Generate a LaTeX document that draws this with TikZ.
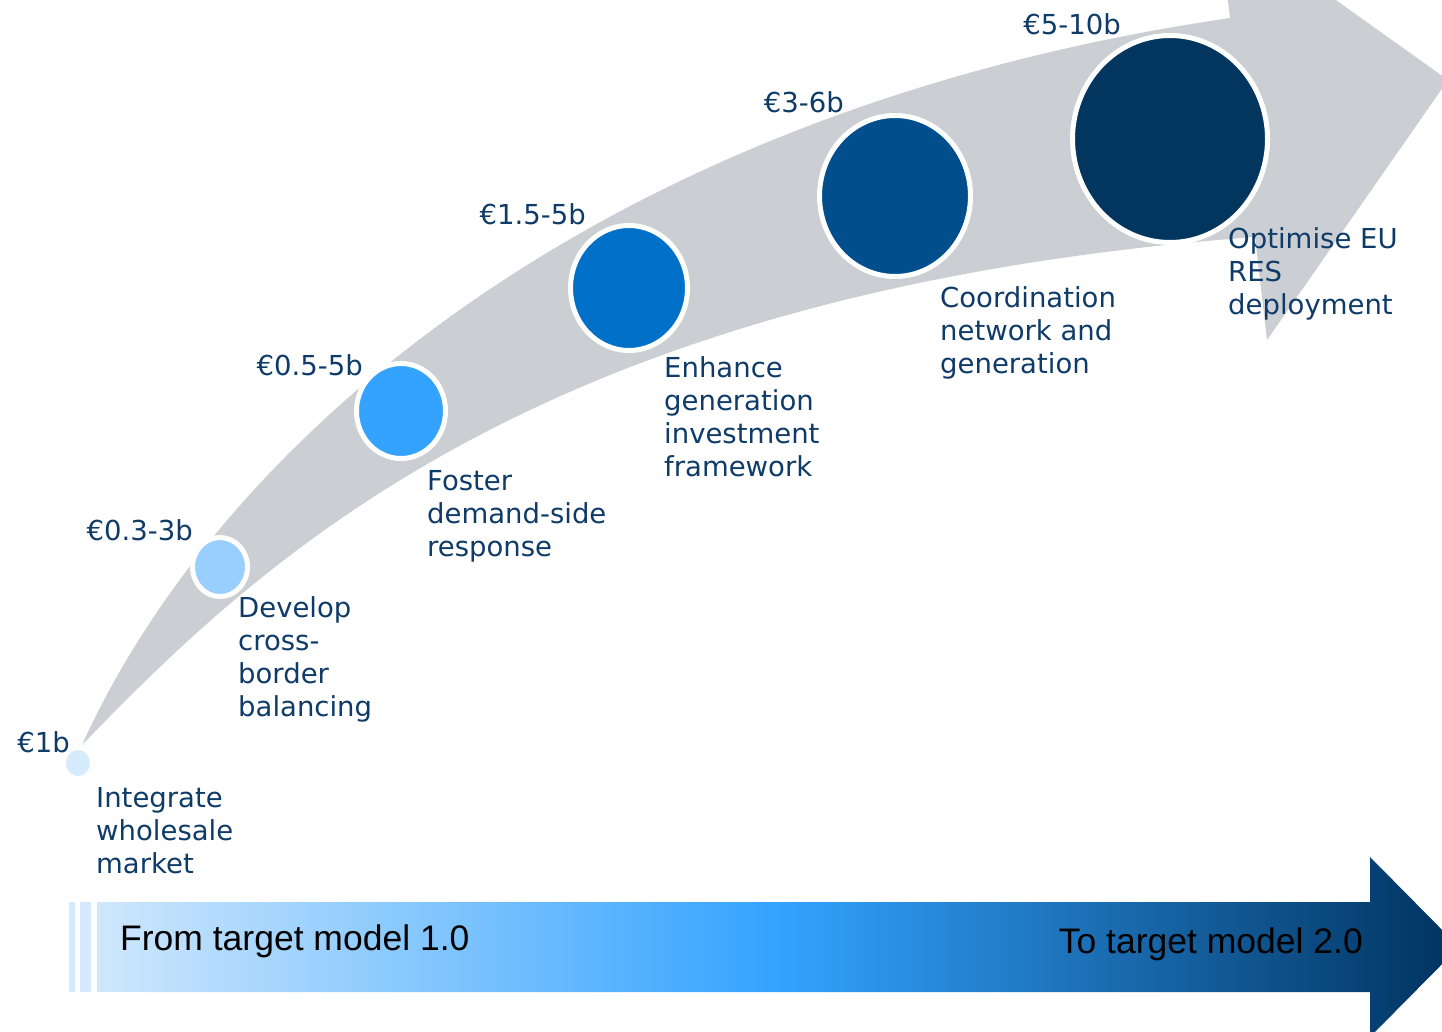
\documentclass[tikz,border=0pt]{standalone}
\usepackage{fontspec}
\setmainfont{DejaVu Sans}
\newfontfamily\barfont{Liberation Sans}
\usetikzlibrary{shapes.geometric}
\definecolor{band}{HTML}{CBCED3}
\definecolor{navy}{HTML}{0F3B68}
\definecolor{stripe}{HTML}{D4EAFC}
\definecolor{barA}{HTML}{CFE7FC}
\definecolor{barB}{HTML}{33A3FF}
\definecolor{barC}{HTML}{00325E}
\definecolor{stageA}{HTML}{D6EBFC}
\definecolor{stageB}{HTML}{99CFFF}
\definecolor{stageC}{HTML}{33A3FF}
\definecolor{stageD}{HTML}{0070C8}
\definecolor{stageE}{HTML}{004F8C}
\definecolor{stageF}{HTML}{02365F}
\tikzset{
	stage/.style={ellipse,inner sep=0pt,draw=white,line width=5pt},
	amount/.style={anchor=base east,inner sep=0pt,text=navy,font=\fontsize{27.5}{33}\selectfont},
	desc/.style={anchor=north west,inner sep=0pt,align=left,text=navy,font=\fontsize{27.5}{33}\selectfont},
	barlabel/.style={inner sep=0pt,font=\barfont\fontsize{35.5}{40}\selectfont}
}
\begin{document}
\begin{tikzpicture}[x=1pt,y=-1pt]
		\useasboundingbox (0,0) rectangle (1442,1032);
		\clip (0,0) rectangle (1442,1032);
		\fill[band] (82,745) .. controls (220,440) and (600,110) .. (1230,18) -- (1218,-84) -- (1448,80) -- (1267,340) -- (1255,237) .. controls (550,290) and (270,550) .. (82,745) -- cycle;

		\node[stage,fill=stageA,minimum width=29pt,minimum height=31pt] (s1) at (78,763) {};
		\node[stage,fill=stageB,minimum width=55pt,minimum height=59pt] (s2) at (220,567) {};
		\node[stage,fill=stageC,minimum width=89pt,minimum height=95pt] (s3) at (401,411) {};
		\node[stage,fill=stageD,minimum width=117pt,minimum height=125pt] (s4) at (629,288) {};
		\node[stage,fill=stageE,minimum width=151pt,minimum height=161pt] (s5) at (895,196) {};
		\node[stage,fill=stageF,minimum width=195pt,minimum height=207pt] (s6) at (1170,139) {};

		\node[amount] (a1) at (70,752) {€1b};
		\node[amount] (a2) at (193,540) {€0.3-3b};
		\node[amount] (a3) at (363,375) {€0.5-5b};
		\node[amount] (a4) at (586,225) {€1.5-5b};
		\node[amount] (a5) at (844,113) {€3-6b};
		\node[amount] (a6) at (1121,35) {€5-10b};

		\node[desc] (d1) at (96,784) {\strut Integrate\\wholesale\\market};
		\node[desc] (d2) at (238,594) {\strut Develop\\cross-\\border\\balancing};
		\node[desc] (d3) at (427,467) {\strut Foster\\demand-side\\response};
		\node[desc] (d4) at (664,354) {\strut Enhance\\generation\\investment\\framework};
		\node[desc] (d5) at (940,284) {\strut Coordination\\network and\\generation};
		\node[desc] (d6) at (1228,225) {\strut Optimise EU\\RES\\deployment};

		\fill[stripe] (69,902) rectangle (75,992);
		\fill[stripe] (80,902) rectangle (91,992);
		\shade[left color=barA,right color=barC,middle color=barB] (97,902) -- (1370,902) -- (1370,857) -- (1459,947) -- (1370,1037) -- (1370,992) -- (97,992) -- cycle;
		\node[barlabel,anchor=base west] (from) at (120,950) {From target model 1.0};
		\node[barlabel,anchor=base east] (to) at (1363,953) {To target model 2.0};

\end{tikzpicture}
\end{document}
